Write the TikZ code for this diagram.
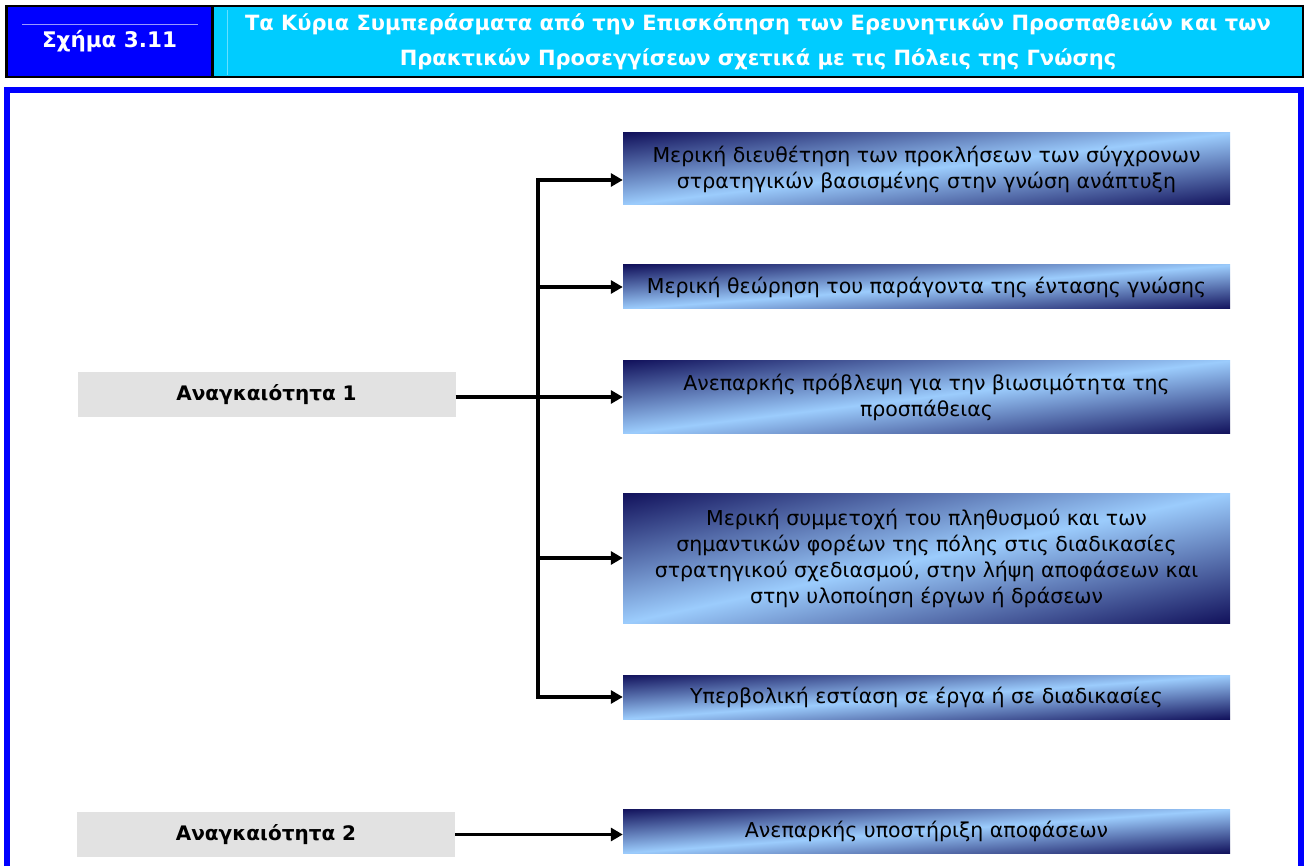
\documentclass[tikz,border=0pt]{standalone}
\usepackage{fontspec}
\setmainfont{DejaVu Sans}
\usetikzlibrary{positioning,arrows.meta}
\definecolor{headblue}{RGB}{0,0,255}
\definecolor{headcyan}{RGB}{0,204,255}
\definecolor{marble}{RGB}{226,226,226}
% navy nos cantos, azul claro na diagonal
\pgfdeclarefunctionalshading{diagshade}{\pgfpoint{0bp}{0bp}}{\pgfpoint{100bp}{100bp}}{}{
  sub 50 div abs dup dup -0.54 mul 0.61 add 3 1 roll -0.73 mul 0.80 add exch -0.63 mul 0.99 add}

\begin{document}
\begin{tikzpicture}[x=1pt, y=-1pt,
    point/.style={shade, shading=diagshade,
      minimum width=607pt, inner sep=0pt, align=center, font=\fontsize{20.5}{26}\selectfont},
    need/.style={fill=marble, minimum width=378pt, minimum height=45pt, inner sep=0pt,
      font=\bfseries\fontsize{20}{24}\selectfont},
    link/.style={line width=3.5pt},
    arr/.style={link, -{Triangle[length=12pt,width=13pt]}}]
  \clip (0,0) rectangle (1304,866);
  \fill[white] (0,0) rectangle (1304,866);

  % cabeçalho
  \node[draw, line width=2.5pt, fill=headblue, minimum width=206pt, minimum height=71pt, inner sep=0pt,
    text=white, font=\bfseries\fontsize{21.5}{26}\selectfont] (H) at (109.5,41.5) {Σχήμα 3.11};
  \node[draw, line width=2.5pt, fill=headcyan, minimum width=1090pt, minimum height=71pt, inner sep=0pt,
    text=white, align=center, font=\bfseries\fontsize{21}{35}\selectfont] (T) at (758,41.5)
    {Τα Κύρια Συμπεράσματα από την Επισκόπηση των Ερευνητικών Προσπαθειών και των\\
     Πρακτικών Προσεγγίσεων σχετικά με τις Πόλεις της Γνώσης};
  \draw[headblue!40!white, line width=0.8pt] (22,24) -- (198,24);
  \draw[headcyan!60!white, line width=0.8pt] (227,10) -- (227,75);

  % moldura
  \draw[headblue, line width=6pt] (7,890) -- (7,90) -- (1301,90) -- (1301,890);

  \node[need] (N1) at (266.5,395) {Αναγκαιότητα 1};
  \node[need] (N2) at (266,834.5) {Αναγκαιότητα 2};

  \node[point, minimum height=72pt] (P1) at (926.5,169) {Μερική διευθέτηση των προκλήσεων των σύγχρονων\\ στρατηγικών βασισμένης στην γνώση ανάπτυξη};
  \node[point, minimum height=44pt] (P2) at (926.5,287) {Μερική θεώρηση του παράγοντα της έντασης γνώσης};
  \node[point, minimum height=73pt] (P3) at (926.5,397) {Ανεπαρκής πρόβλεψη για την βιωσιμότητα της\\ προσπάθειας};
  \node[point, minimum height=130pt] (P4) at (926.5,558) {Μερική συμμετοχή του πληθυσμού και των\\ σημαντικών φορέων της πόλης στις διαδικασίες\\ στρατηγικού σχεδιασμού, στην λήψη αποφάσεων και\\ στην υλοποίηση έργων ή δράσεων};
  \node[point, minimum height=44pt] (P5) at (926.5,697) {Υπερβολική εστίαση σε έργα ή σε διαδικασίες};
  \node[point, minimum height=44pt] (P6) at (926.5,831) {Ανεπαρκής υποστήριξη αποφάσεων};

  \coordinate (J) at (538,397);
  \coordinate (Jt) at (538,180);
  \coordinate (Jb) at (538,697);

  \draw[link] (N1.east |- J) -- (J);
  \draw[link, line cap=rect] (Jt) -- (Jb);
  \draw[arr] (Jt) -- (Jt -| P1.west);
  \draw[arr] (J |- P2.west) -- (P2.west);
  \draw[arr] (J) -- (P3.west);
  \draw[arr] (J |- P4.west) -- (P4.west);
  \draw[arr] (Jb) -- (P5.west);
  \draw[arr] (N2.east) -- (N2.east -| P6.west);
\end{tikzpicture}
\end{document}
